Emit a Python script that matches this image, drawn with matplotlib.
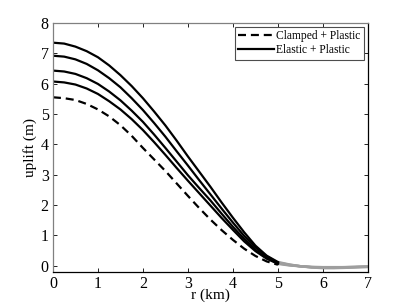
import numpy as np
import matplotlib
matplotlib.use('Agg')
import matplotlib.pyplot as plt

# radial positions (km)
r_in = [0.0, 0.25, 0.5, 0.75, 1.0, 1.25, 1.5, 1.75, 2.0, 2.25, 2.5,
        2.75, 3.0, 3.25, 3.5, 3.75, 4.0, 4.25, 4.5, 4.75, 5.0]
r_out = [5.0, 5.25, 5.5, 5.75, 6.0, 6.25, 6.5, 6.75, 7.0]

# clamped + plastic (dashed)
clamped = [5.55, 5.52, 5.46, 5.33, 5.15, 4.92, 4.63, 4.28, 3.88, 3.50, 3.12,
           2.71, 2.30, 1.90, 1.52, 1.17, 0.85, 0.56, 0.32, 0.14, 0.03]

# elastic + plastic (solid), inside r < 5
elastic_a = [7.35, 7.32, 7.22, 7.07, 6.87, 6.60, 6.28, 5.92, 5.52, 5.08, 4.62,
             4.12, 3.60, 3.10, 2.60, 2.08, 1.58, 1.10, 0.66, 0.33, 0.12]
elastic_b = [6.92, 6.89, 6.80, 6.65, 6.44, 6.18, 5.88, 5.52, 5.13, 4.70, 4.25,
             3.77, 3.30, 2.82, 2.35, 1.88, 1.42, 0.98, 0.60, 0.30, 0.10]
elastic_c = [6.43, 6.40, 6.32, 6.18, 5.99, 5.74, 5.45, 5.11, 4.74, 4.32, 3.88,
             3.43, 2.98, 2.56, 2.15, 1.71, 1.28, 0.88, 0.52, 0.25, 0.08]
elastic_d = [6.07, 6.04, 5.97, 5.84, 5.66, 5.42, 5.15, 4.83, 4.47, 4.07, 3.65,
             3.22, 2.80, 2.39, 1.98, 1.57, 1.18, 0.80, 0.48, 0.23, 0.06]

# elastic part outside r > 5 (grey)
tail_a = [0.12, 0.04, -0.02, -0.06, -0.08, -0.08, -0.07, -0.05, -0.04]
tail_b = [0.10, 0.03, -0.02, -0.05, -0.07, -0.07, -0.06, -0.05, -0.04]
tail_c = [0.08, 0.02, -0.02, -0.05, -0.06, -0.06, -0.05, -0.04, -0.03]
tail_d = [0.06, 0.01, -0.02, -0.04, -0.05, -0.05, -0.05, -0.04, -0.03]

plt.rcParams['font.family'] = ['Liberation Serif', 'DejaVu Serif']

fig = plt.figure(figsize=(4.07, 3.06), dpi=100)
ax = fig.add_axes([0.130, 0.112, 0.774, 0.813])

for tail in [tail_d, tail_c, tail_b, tail_a]:
    ax.plot(r_out, tail, color='0.62', lw=1.8, solid_capstyle='butt')

ax.plot(r_in, clamped, color='k', lw=1.6, dashes=(3.6, 2.2),
        label='Clamped + Plastic')
ax.plot(r_in, elastic_a, color='k', lw=1.6, label='Elastic + Plastic')
for y in [elastic_b, elastic_c, elastic_d]:
    ax.plot(r_in, y, color='k', lw=1.6)

ax.set_xlim(0, 7)
ax.set_ylim(-0.2, 8)
ax.set_xticks(range(0, 8))
ax.set_yticks(range(0, 9))
ax.tick_params(direction='in', length=3, width=0.6, labelsize=11.5,
               top=True, right=True, pad=3, colors='k')

for side in ['left', 'top']:
    ax.spines[side].set_color('0.5')
for side in ['right', 'bottom']:
    ax.spines[side].set_color('k')
for s in ax.spines.values():
    s.set_linewidth(0.9)

ax.set_xlabel('r (km)', fontsize=11, labelpad=-2.5)
ax.set_ylabel('uplift (m)', fontsize=11, labelpad=3)

leg = ax.legend(loc='upper right', fontsize=8.3, handlelength=3.1,
                handletextpad=0.2, labelspacing=0.15, borderpad=0.3,
                borderaxespad=0.35, fancybox=False, framealpha=1)
leg.get_frame().set_edgecolor('0.3')
leg.get_frame().set_linewidth(0.8)

fig.savefig('out.png', dpi=100)
